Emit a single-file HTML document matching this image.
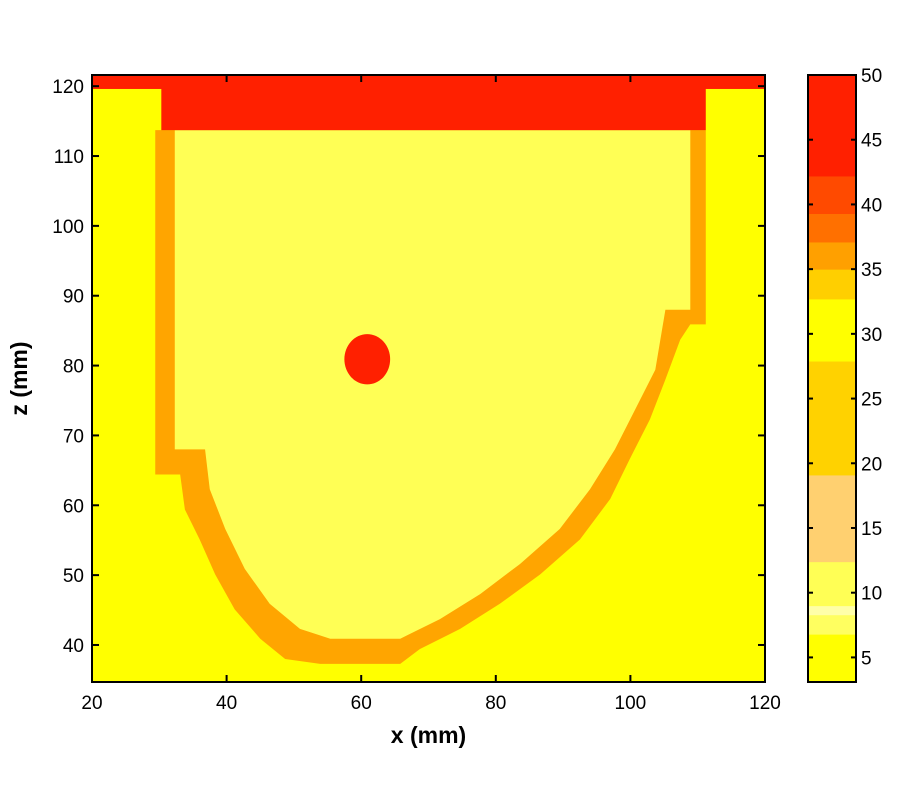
<!DOCTYPE html>
<html><head><meta charset="utf-8"><style>
body{margin:0;background:#fff;}
svg text{font-family:"Liberation Sans",Arial,sans-serif;}
</style></head><body>
<svg id="chart" width="900" height="800" xmlns="http://www.w3.org/2000/svg"></svg>
<script>
const xTicks=[20,40,60,80,100,120];
const zTicks=[40,50,60,70,80,90,100,110,120];
const cbTicks=[5,10,15,20,25,30,35,40,45,50];
// colorbar bands: [from, to, color]
const cbLow=[3.1,6.8,8.3,9.0,12.4,19.1,27.9,32.7,35.0,37.1,39.3,42.2];
const cbHigh=[6.8,8.3,9.0,12.4,19.1,27.9,32.7,35.0,37.1,39.3,42.2,50];
const cbColors=["#ffff00","#ffff60","#ffffa8","#ffff55","#ffd070","#ffd200","#ffff00","#ffcf00","#ffa000","#ff7000","#ff4a00","#ff2000"];
// orange band outer boundary (x mm, z mm)
const outerX=[29.4,29.4,33.1,33.8,36.0,38.3,41.2,45.0,48.7,53.9,65.8,68.7,74.7,80.6,86.6,92.5,97.0,99.9,102.9,105.2,107.4,108.9,111.2,111.2];
const outerZ=[113.7,64.4,64.4,59.4,55.1,50.1,45.1,40.9,38.0,37.3,37.3,39.4,42.3,45.9,50.1,55.1,60.9,66.6,72.3,78.0,83.7,85.9,85.9,113.7];
// inner light region boundary
const innerX=[32.3,32.3,36.8,37.5,39.8,42.7,46.4,50.9,55.4,65.8,71.7,77.7,83.6,89.5,94.0,97.7,100.7,103.7,105.2,108.9,108.9];
const innerZ=[113.7,68.0,68.0,62.3,56.6,50.9,45.9,42.3,40.9,40.9,43.7,47.3,51.6,56.6,62.3,68.0,73.7,79.4,88.0,88.0,113.7];
const dot={x:60.9,z:80.9,rx:3.4,rz:3.6};

const NS="http://www.w3.org/2000/svg";
const svg=document.getElementById('chart');
const L=92,R=765,T=75,B=682;
const X0=20,X1=120,Z0=34.7,Z1=121.6;
const sx=v=>L+(v-X0)/(X1-X0)*(R-L);
const sz=v=>B-(v-Z0)/(Z1-Z0)*(B-T);
const CL=808,CR=856,C0=3.1,C1=50;
const sc=v=>B-(v-C0)/(C1-C0)*(B-T);
function mk(t,a,p){const e=document.createElementNS(NS,t);for(const k in a)e.setAttribute(k,a[k]);(p||svg).appendChild(e);return e;}

let e=mk('rect',{x:L,y:T,width:R-L,height:B-T,fill:'#ffff00'});


e=mk('polygon',{points:outerX.map((v,i)=>sx(v)+','+sz(outerZ[i])).join(' '),fill:'#ffa500'});


e=mk('polygon',{points:innerX.map((v,i)=>sx(v)+','+sz(innerZ[i])).join(' '),fill:'#ffff55'});


e=mk('rect',{x:L,y:T,width:R-L,height:sz(119.6)-T,fill:'#ff2000'});


e=mk('rect',{x:sx(30.3),y:T,width:sx(111.2)-sx(30.3),height:sz(113.7)-T,fill:'#ff2000'});


e=mk('ellipse',{cx:sx(dot.x),cy:sz(dot.z),rx:sx(dot.x+dot.rx)-sx(dot.x),ry:sz(dot.z)-sz(dot.z+dot.rz),fill:'#ff2000'});


e=mk('rect',{x:L,y:T,width:R-L,height:B-T,fill:'none',stroke:'#000','stroke-width':2});



xTicks.forEach(v=>{
 const x=sx(v);
 mk('line',{x1:x,y1:B,x2:x,y2:B-7,stroke:'#000','stroke-width':2});
 mk('line',{x1:x,y1:T,x2:x,y2:T+7,stroke:'#000','stroke-width':2});
 const t=mk('text',{x:x,y:B+27,'text-anchor':'middle','font-size':19});t.textContent=v;
 
 
});
zTicks.forEach(v=>{
 const y=sz(v);
 mk('line',{x1:L,y1:y,x2:L+7,y2:y,stroke:'#000','stroke-width':2});
 mk('line',{x1:R,y1:y,x2:R-7,y2:y,stroke:'#000','stroke-width':2});
 const t=mk('text',{x:L-8,y:y+7,'text-anchor':'end','font-size':19});t.textContent=v;
 
 
});
let t=mk('text',{x:(L+R)/2,y:743,'text-anchor':'middle','font-size':23,'font-weight':'bold'});t.textContent='x (mm)';


t=mk('text',{x:0,y:0,'text-anchor':'middle','font-size':23,'font-weight':'bold',transform:'translate(27,'+((T+B)/2)+') rotate(-90)'});t.textContent='z (mm)';



cbLow.forEach((v,i)=>{
 const r=mk('rect',{x:CL,y:sc(cbHigh[i]),width:CR-CL,height:sc(v)-sc(cbHigh[i])+0.5,fill:cbColors[i]});
 
 
});
e=mk('rect',{x:CL,y:T,width:CR-CL,height:B-T,fill:'none',stroke:'#000','stroke-width':2});


cbTicks.forEach(v=>{
 const y=sc(v);
 mk('line',{x1:CL,y1:y,x2:CL+5,y2:y,stroke:'#000','stroke-width':2});
 mk('line',{x1:CR,y1:y,x2:CR-5,y2:y,stroke:'#000','stroke-width':2});
 const tt=mk('text',{x:CR+5,y:y+7,'font-size':19});tt.textContent=v;
 
 
});
</script>
</body></html>
